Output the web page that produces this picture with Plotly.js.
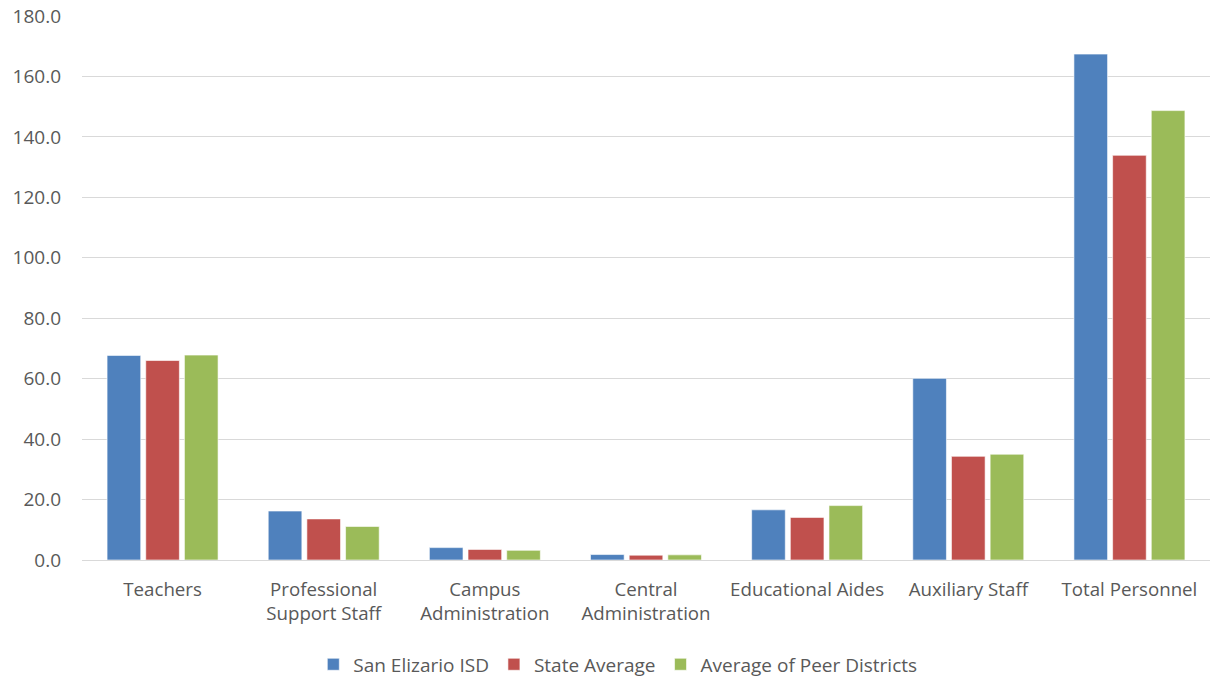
<!DOCTYPE html>
<html>
<head>
<meta charset="utf-8">
<script src="https://cdn.plot.ly/plotly-3.0.1.min.js"></script>
<style>
  html, body { margin: 0; padding: 0; background: #fff; }
  #chart { width: 1210px; height: 679px; }
</style>
</head>
<body>
<div id="chart"></div>
<script>
// Staff per 1,000 students by category
const categories = [
  "Teachers",
  "Professional<br>Support Staff",
  "Campus<br>Administration",
  "Central<br>Administration",
  "Educational Aides",
  "Auxiliary Staff",
  "Total Personnel"
];
const sanElizario = [67.7, 16.2, 4.1, 1.8, 16.6, 60.1, 167.4];
const stateAverage = [66.0, 13.6, 3.5, 1.6, 14.1, 34.3, 133.9];
const peerAverage = [67.8, 11.1, 3.2, 1.7, 18.0, 35.0, 148.7];

const seriesNames = ["San Elizario ISD", "State Average", "Average of Peer Districts"];
const seriesColors = ["#4F81BD", "#C0504D", "#9BBB59"];
const seriesValues = [sanElizario, stateAverage, peerAverage];

const fontFamily = "'Open Sans', sans-serif";
const textColor = "#595959";

const traces = seriesValues.map((vals, i) => ({
  type: "bar",
  name: seriesNames[i],
  x: categories,
  y: vals,
  marker: { color: seriesColors[i], line: { color: "rgba(255,255,255,0.6)", width: 1 } },
  hoverinfo: "x+y+name"
}));

const layout = {
  width: 1210,
  height: 679,
  margin: { l: 82, r: 0, t: 16, b: 119, autoexpand: false },
  paper_bgcolor: "#ffffff",
  plot_bgcolor: "#ffffff",
  font: { family: fontFamily, size: 19, color: textColor },
  barmode: "group",
  bargap: 0.28,
  bargroupgap: 0.13,
  showlegend: true,
  legend: {
    orientation: "h",
    x: 0.475,
    xanchor: "center",
    y: -0.157,
    yanchor: "top",
    font: { family: fontFamily, size: 19, color: textColor },
    traceorder: "normal"
  },
  xaxis: {
    type: "category",
    showgrid: false,
    showline: false,
    ticks: "",
    ticklabelstandoff: 16,
    tickfont: { family: fontFamily, size: 18.7, color: textColor },
    automargin: false
  },
  yaxis: {
    range: [0, 180],
    dtick: 20,
    tickformat: ".1f",
    showgrid: true,
    gridcolor: "#D9D9D9",
    gridwidth: 1,
    zeroline: true,
    zerolinecolor: "#D9D9D9",
    zerolinewidth: 1,
    showline: false,
    ticks: "",
    ticklabelstandoff: 20,
    tickfont: { family: fontFamily, size: 19, color: textColor },
    automargin: false
  }
};

Plotly.newPlot("chart", traces, layout, { displayModeBar: false, staticPlot: true });
</script>
</body>
</html>
